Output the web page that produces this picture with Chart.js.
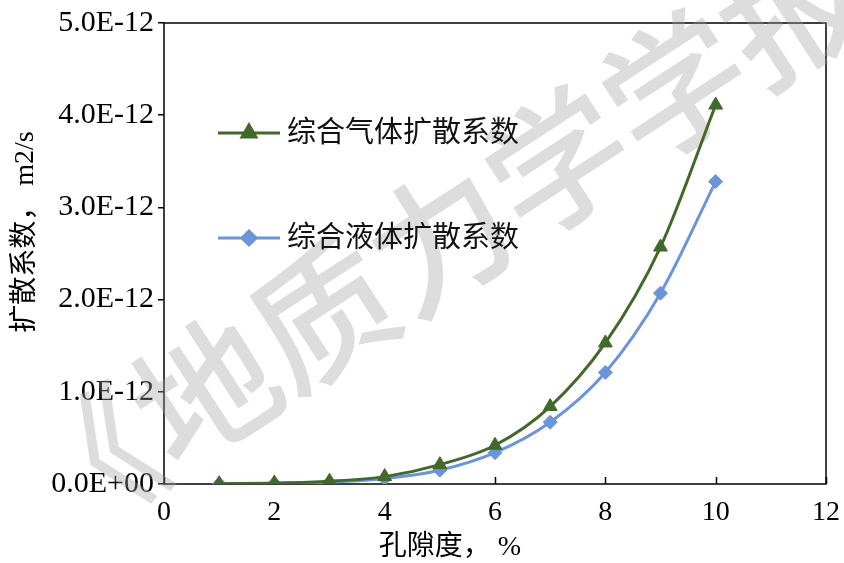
<!DOCTYPE html>
<html>
<head>
<meta charset="utf-8">
<script src="https://cdn.jsdelivr.net/npm/chart.js@4/dist/chart.umd.min.js"></script>
<style>
  html, body { margin: 0; padding: 0; background: #fff; }
  #wrap { width: 844px; height: 563px; position: relative; }
</style>
</head>
<body>
<div id="wrap"><canvas id="chart"></canvas></div>
<script>
// 孔隙度 (%) 与综合扩散系数 (m2/s)
const porosity = [1, 2, 3, 4, 5, 6, 7, 8, 9, 10];
const gasDiffusion = [3.0e-15, 1.0e-14, 3.0e-14, 8.0e-14, 2.1e-13, 4.2e-13, 8.4e-13, 1.53e-12, 2.57e-12, 4.11e-12];
const liquidDiffusion = [2.0e-15, 6.0e-15, 2.0e-14, 6.0e-14, 1.5e-13, 3.4e-13, 6.7e-13, 1.21e-12, 2.07e-12, 3.28e-12];

const seriesNames = ['综合气体扩散系数', '综合液体扩散系数'];
const xTickValues = [0, 2, 4, 6, 8, 10, 12];
const yTickValues = [0, 1e-12, 2e-12, 3e-12, 4e-12, 5e-12];
const yTickLabels = ['0.0E+00', '1.0E-12', '2.0E-12', '3.0E-12', '4.0E-12', '5.0E-12'];
const xTitle = '孔隙度， %';
const yTitle = '扩散系数， m2/s';
const watermark = '《地质力学学报';

const GREEN = '#41692a';
const BLUE = '#6b95d8';
const SERIF = '"Liberation Serif", "Times New Roman", "Noto Sans CJK SC", serif';
const CJK = '"Liberation Serif", "Noto Sans CJK SC", sans-serif';

// 坐标框、向内的 x 刻度、水印
const framePlugin = {
    id: 'frame',
    beforeDatasetsDraw(chart) {
        const { ctx, chartArea: a, scales } = chart;
        ctx.save();
        ctx.strokeStyle = '#000';
        ctx.lineWidth = 1.5;
        ctx.strokeRect(a.left, a.top, a.right - a.left, a.bottom - a.top);
        xTickValues.forEach(v => {
            const px = Math.round(scales.x.getPixelForValue(v)) + 0.5;
            ctx.beginPath();
            ctx.moveTo(px, a.bottom);
            ctx.lineTo(px, a.bottom - 7);
            ctx.stroke();
        });
        ctx.restore();

        // 水印
        ctx.save();
        ctx.translate(440, 238);
        ctx.rotate(-33 * Math.PI / 180);
        ctx.font = '500 140px "Noto Sans CJK SC", sans-serif';
        ctx.textAlign = 'center';
        ctx.textBaseline = 'middle';
        ctx.fillStyle = 'rgba(160, 160, 160, 0.36)';
        ctx.fillText(watermark, 0, 0);
        ctx.restore();
    },
    afterDraw(chart) {
        const { ctx } = chart;
        ctx.save();
        ctx.fillStyle = '#000';
        ctx.font = '28px ' + CJK;
        ctx.textAlign = 'center';
        ctx.textBaseline = 'middle';
        ctx.fillText(xTitle, 450, 548);
        ctx.translate(26, 232);
        ctx.rotate(-Math.PI / 2);
        ctx.fillText(yTitle, 0, 0);
        ctx.restore();

        // 图例（绘图区内）
        const rows = [
            { y: 133, color: GREEN, style: 'triangle', radius: 8 },
            { y: 238, color: BLUE, style: 'rectRot', radius: 7 },
        ];
        rows.forEach((r, i) => {
            ctx.save();
            ctx.strokeStyle = r.color;
            ctx.fillStyle = r.color;
            ctx.lineWidth = 3;
            ctx.beginPath();
            ctx.moveTo(218, r.y);
            ctx.lineTo(280, r.y);
            ctx.stroke();
            Chart.helpers.drawPoint(ctx, { pointStyle: r.style, radius: r.radius, rotation: 0, borderWidth: 1 }, 249, r.y);
            ctx.fillStyle = '#111';
            ctx.font = '29px ' + CJK;
            ctx.textBaseline = 'middle';
            ctx.fillText(seriesNames[i], 287, r.y + 1);
            ctx.restore();
        });
    },
};

new Chart(document.getElementById('chart'), {
    type: 'line',
    data: {
        labels: porosity,
        datasets: [
            {
                label: seriesNames[0],
                data: porosity.map((x, i) => ({ x, y: gasDiffusion[i] })),
                borderColor: GREEN,
                backgroundColor: GREEN,
                borderWidth: 3,
                pointStyle: 'triangle',
                pointRadius: 8,
                pointBorderWidth: 1,
                cubicInterpolationMode: 'monotone',
            },
            {
                label: seriesNames[1],
                data: porosity.map((x, i) => ({ x, y: liquidDiffusion[i] })),
                borderColor: BLUE,
                backgroundColor: BLUE,
                borderWidth: 3,
                pointStyle: 'rectRot',
                pointRadius: 7,
                pointBorderWidth: 1,
                cubicInterpolationMode: 'monotone',
            },
        ],
    },
    options: {
        responsive: true,
        maintainAspectRatio: false,
        animation: false,
        layout: { padding: { top: 23, right: 16, left: 0, bottom: 0 } },
        plugins: {
            legend: { display: false },
            tooltip: { enabled: false },
        },
        scales: {
            x: {
                type: 'linear',
                min: 0,
                max: 12,
                afterBuildTicks: s => { s.ticks = xTickValues.map(v => ({ value: v })); },
                grid: { display: false },
                border: { display: false },
                ticks: {
                    color: '#000',
                    padding: 4,
                    font: { family: SERIF, size: 28 },
                },
                afterFit: s => { s.height = 79; },
            },
            y: {
                min: 0,
                max: 5e-12,
                afterBuildTicks: s => { s.ticks = yTickValues.map(v => ({ value: v })); },
                grid: { drawOnChartArea: false, tickLength: 6, color: '#000', lineWidth: 1.5 },
                border: { display: false },
                ticks: {
                    color: '#000',
                    padding: 4,
                    font: { family: SERIF, size: 30 },
                    callback: (v, i) => yTickLabels[i],
                },
                afterFit: s => { s.width = 164; },
            },
        },
    },
    plugins: [framePlugin],
});
</script>
</body>
</html>
